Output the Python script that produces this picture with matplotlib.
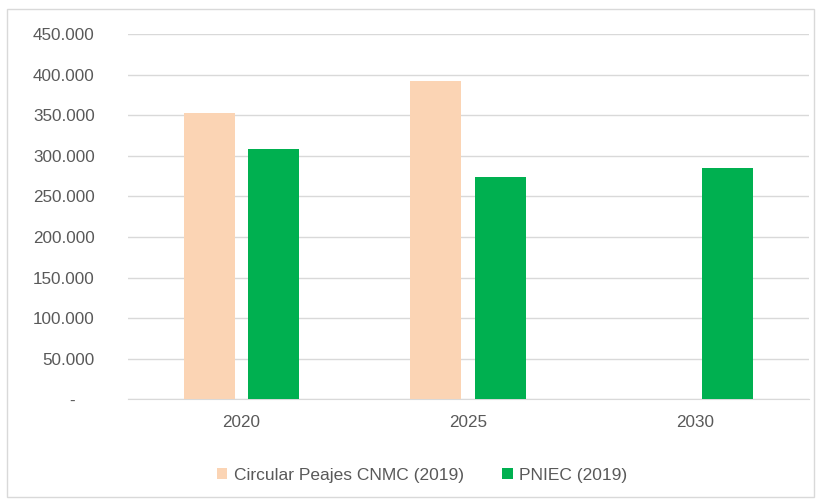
import numpy as np
import matplotlib.pyplot as plt
from matplotlib.patches import Rectangle
from matplotlib.ticker import FuncFormatter

years = ["2020", "2025", "2030"]
cnmc = [352300, 392500, 0]
pniec = [308000, 273800, 284500]
labels = ["Circular Peajes CNMC (2019)", "PNIEC (2019)"]

plt.rcParams['font.family'] = ['Liberation Sans', 'DejaVu Sans']

fig = plt.figure(figsize=(8.21, 5.01), dpi=100)
ax = fig.add_axes([0.156, 0.203, 0.829, 0.729])

# light border around the whole chart
fig.patches.append(Rectangle((0.009, 0.008), 0.983, 0.975, transform=fig.transFigure,
                             fill=False, edgecolor="#d9d9d9", linewidth=1.0))

x = np.arange(len(years))
w = 0.225
off = 0.143
ax.bar(x - off, cnmc, w, color="#fbd4b4", label=labels[0], zorder=3)
ax.bar(x + off, pniec, w, color="#00b050", label=labels[1], zorder=3)

ax.set_xlim(-0.5, 2.5)
ax.set_ylim(0, 450000)
ax.set_yticks(np.arange(0, 450001, 50000))
ax.yaxis.set_major_formatter(FuncFormatter(
    lambda v, p: "-    " if v == 0 else f"{int(v):,}".replace(",", ".")))
ax.set_xticks(x)
ax.set_xticklabels(years)

ax.grid(axis="y", color="#d9d9d9", linewidth=1.0, zorder=0)
for s in ["top", "right", "left"]:
    ax.spines[s].set_visible(False)
ax.spines["bottom"].set_color("#d9d9d9")
ax.tick_params(axis="both", length=0, labelsize=12.3, labelcolor="#595959")
ax.tick_params(axis="y", pad=24)
ax.tick_params(axis="x", pad=11)

ax.legend(loc="upper center", bbox_to_anchor=(0.432, -0.145), ncol=2, frameon=False,
          fontsize=12.5, labelcolor="#595959", handlelength=0.6, handleheight=0.6,
          handletextpad=0.4, columnspacing=2.2)

fig.savefig("out.png", dpi=100)
